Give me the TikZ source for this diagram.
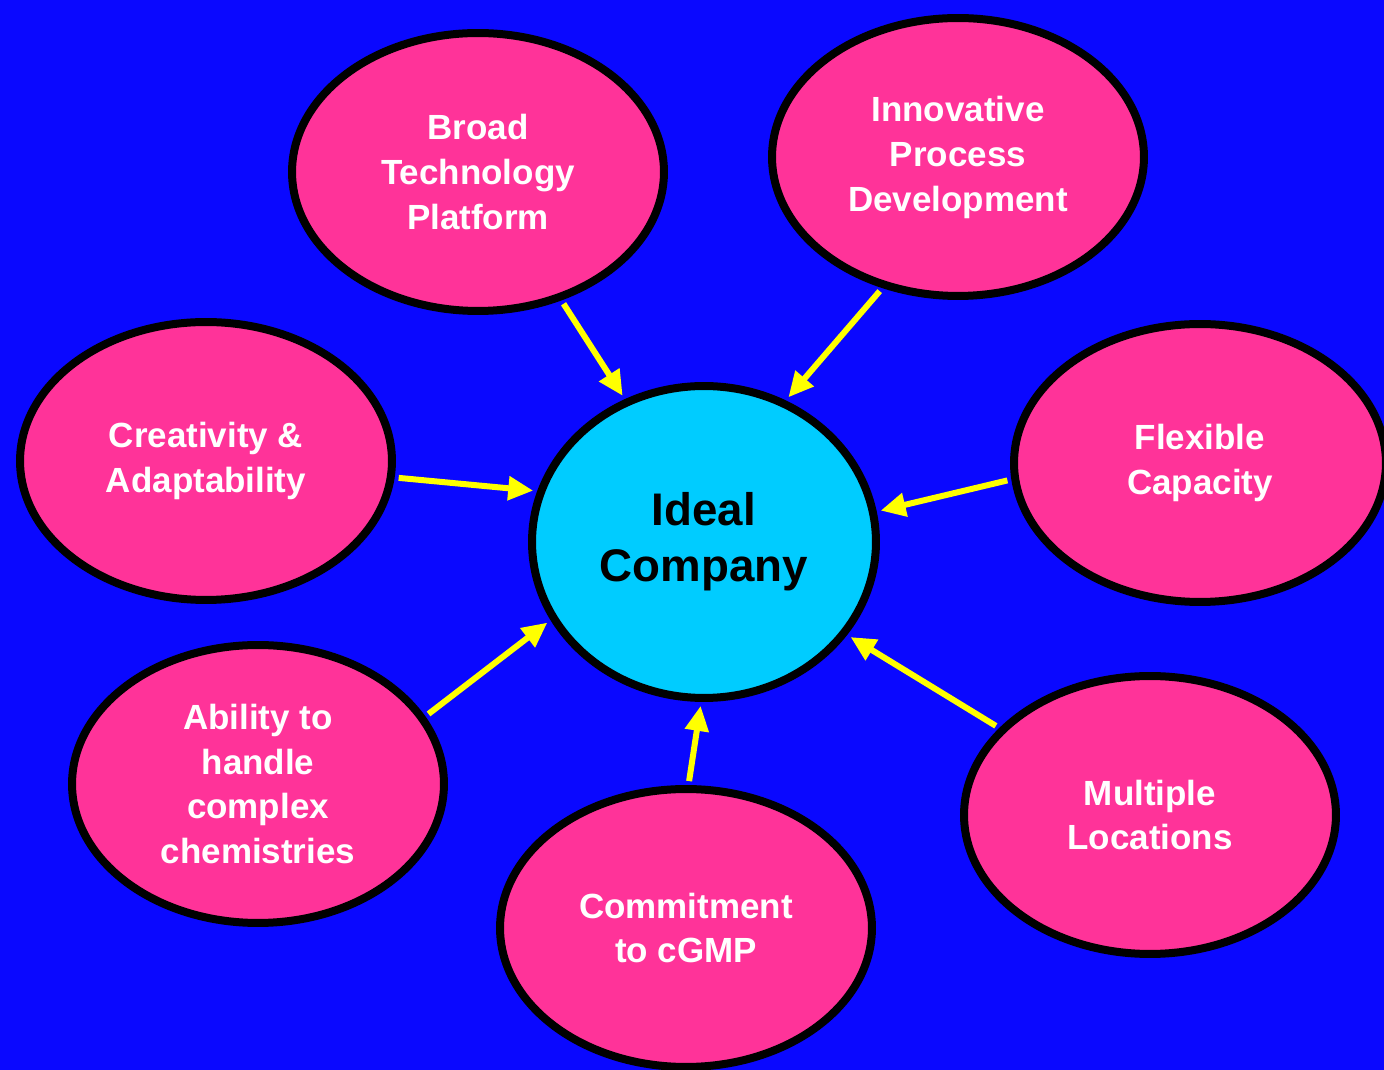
\documentclass[tikz,border=0pt]{standalone}
\usepackage{fontspec}
\setmainfont{Liberation Sans}
\usepackage{xcolor}
\usepackage{tikz}
\usetikzlibrary{shapes.geometric, arrows.meta}

\definecolor{bgblue}{RGB}{10,8,255}
\definecolor{petal}{RGB}{255,51,153}
\definecolor{hubcyan}{RGB}{0,204,255}
\definecolor{arrowyellow}{RGB}{255,255,0}

\begin{document}
\begin{tikzpicture}[x=0.02cm, y=-0.02cm]
    \tikzstyle{goal} = [ellipse, draw=black, line width=0.16cm, fill=petal, text=white, minimum width=7.44cm, minimum height=5.56cm, inner sep=0pt, align=center, font=\fontsize{19.9pt}{25.6pt}\selectfont\bfseries]
    \tikzstyle{hub} = [ellipse, draw=black, line width=0.16cm, fill=hubcyan, text=black, minimum width=6.88cm, minimum height=6.24cm, inner sep=0pt, align=center, font=\fontsize{26pt}{31.9pt}\selectfont\bfseries]
    \tikzstyle{arrow} = [line width=0.12cm, draw=arrowyellow, -{Triangle[length=0.5cm, width=0.46cm]}, shorten <=0.08cm, shorten >=0.08cm]

    \clip (0,0) rectangle (1384,1070);
    \fill [bgblue] (0,0) rectangle (1384,1070);

    \node (ideal) [hub] at (704,542) {Ideal\\Company};

    \node (broad) [goal] at (478,172) {Broad\\Technology\\Platform};
    \node (innov) [goal] at (958,157) {Innovative\\Process\\Development};
    \node (creat) [goal] at (206,461) {Creativity \&\\Adaptability};
    \node (flex) [goal] at (1200,463) {Flexible\\Capacity};
    \node (ability) [goal] at (258,784) {Ability to\\handle\\complex\\chemistries};
    \node (cgmp) [goal] at (686,928) {Commitment\\to cGMP};
    \node (multi) [goal] at (1150,815) {Multiple\\Locations};

    \draw [arrow] (broad.-57.6) -- (ideal.119);
    \draw [arrow] (innov.-120.8) -- (ideal.60.5);
    \draw [arrow] (creat.-5) -- (ideal.163.4);
    \draw [arrow] (flex.185.1) -- (ideal.10.2);
    \draw [arrow] (ability.22.4) -- (ideal.207.3);
    \draw [arrow] (cgmp.89.2) -- (ideal.269.6);
    \draw [arrow] (multi.150.3) -- (ideal.-33.7);
\end{tikzpicture}
\end{document}
